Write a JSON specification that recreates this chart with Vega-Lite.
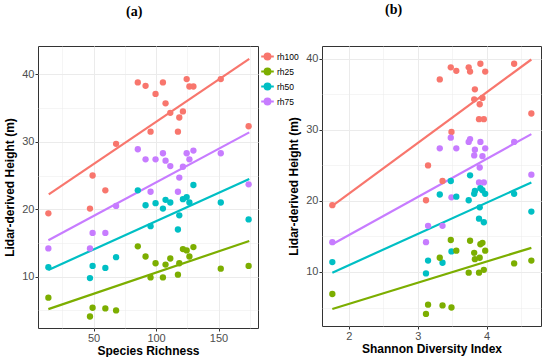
{
  "$schema": "https://vega.github.io/schema/vega-lite/v6.json",
  "padding": {"left": 3, "top": 2, "right": 2, "bottom": 0},
  "background": "white",
  "spacing": 28,
  "datasets": {
    "sites": [
      {"site": "A", "richness": 13.8, "shannon": 1.76, "rh100": 19.4, "rh25": 6.9, "rh50": 11.4, "rh75": 14.2},
      {"site": "B", "richness": 47.1, "shannon": 3.12, "rh100": 20.1, "rh25": 4.1, "rh50": 9.8, "rh75": 14.2},
      {"site": "C", "richness": 49.2, "shannon": 3.15, "rh100": 25.0, "rh25": 5.4, "rh50": 11.6, "rh75": 16.5},
      {"site": "D", "richness": 59.4, "shannon": 3.36, "rh100": 22.8, "rh25": 5.3, "rh50": 11.3, "rh75": 16.5},
      {"site": "E", "richness": 68.0, "shannon": 3.49, "rh100": 29.7, "rh25": 5.0, "rh50": 12.9, "rh75": 20.5},
      {"site": "F", "richness": 85.4, "shannon": 3.48, "rh100": 38.8, "rh25": 14.5, "rh50": 22.8, "rh75": 28.9},
      {"site": "G", "richness": 91.6, "shannon": 3.56, "rh100": 38.3, "rh25": 13.0, "rh50": 20.6, "rh75": 27.4},
      {"site": "H", "richness": 95.6, "shannon": 3.89, "rh100": 31.5, "rh25": 9.9, "rh50": 17.5, "rh75": 22.6},
      {"site": "I", "richness": 99.6, "shannon": 3.32, "rh100": 37.1, "rh25": 12.0, "rh50": 20.9, "rh75": 27.4},
      {"site": "J", "richness": 105.5, "shannon": 3.74, "rh100": 38.8, "rh25": 9.9, "rh50": 20.1, "rh75": 28.3},
      {"site": "K", "richness": 107.6, "shannon": 3.83, "rh100": 35.7, "rh25": 11.8, "rh50": 21.4, "rh75": 27.2},
      {"site": "L", "richness": 111.4, "shannon": 3.82, "rh100": 34.3, "rh25": 12.7, "rh50": 21.0, "rh75": 26.4},
      {"site": "M", "richness": 117.5, "shannon": 3.96, "rh100": 31.5, "rh25": 10.3, "rh50": 17.0, "rh75": 22.6},
      {"site": "N", "richness": 118.6, "shannon": 3.90, "rh100": 33.6, "rh25": 12.0, "rh50": 19.1, "rh75": 24.7},
      {"site": "O", "richness": 121.5, "shannon": 3.94, "rh100": 34.5, "rh25": 14.1, "rh50": 21.5, "rh75": 26.3},
      {"site": "P", "richness": 124.5, "shannon": 3.91, "rh100": 39.3, "rh25": 13.9, "rh50": 21.8, "rh75": 28.3},
      {"site": "Q", "richness": 126.7, "shannon": 3.98, "rh100": 38.2, "rh25": 13.0, "rh50": 21.0, "rh75": 27.4},
      {"site": "R", "richness": 129.9, "shannon": 3.76, "rh100": 38.2, "rh25": 14.4, "rh50": 23.6, "rh75": 28.7},
      {"site": "S", "richness": 151.8, "shannon": 4.40, "rh100": 39.3, "rh25": 11.2, "rh50": 21.0, "rh75": 28.3},
      {"site": "T", "richness": 174.1, "shannon": 4.65, "rh100": 32.3, "rh25": 11.6, "rh50": 18.5, "rh75": 23.7}
    ],
    "fitsA": [
      {"metric": "rh100", "x": 14.1, "height": 22.2},
      {"metric": "rh100", "x": 174.6, "height": 42.3},
      {"metric": "rh75", "x": 13.8, "height": 15.4},
      {"metric": "rh75", "x": 174.6, "height": 31.4},
      {"metric": "rh50", "x": 13.8, "height": 11.0},
      {"metric": "rh50", "x": 174.6, "height": 24.5},
      {"metric": "rh25", "x": 13.8, "height": 5.2},
      {"metric": "rh25", "x": 174.6, "height": 15.3}
    ],
    "fitsB": [
      {"metric": "rh100", "x": 1.76, "height": 19.3},
      {"metric": "rh100", "x": 4.65, "height": 39.9},
      {"metric": "rh75", "x": 1.76, "height": 13.9},
      {"metric": "rh75", "x": 4.65, "height": 29.4},
      {"metric": "rh50", "x": 1.76, "height": 9.9},
      {"metric": "rh50", "x": 4.65, "height": 22.6},
      {"metric": "rh25", "x": 1.76, "height": 4.8},
      {"metric": "rh25", "x": 4.65, "height": 13.4}
    ]
  },
  "hconcat": [
    {
      "title": {"text": "(a)", "anchor": "start", "frame": "group", "dx": 88, "offset": 27},
      "width": 220,
      "height": 282,
      "layer": [
        {
          "data": {"name": "fitsA"},
          "mark": {"type": "line", "strokeWidth": 2.2},
          "encoding": {
            "x": {"field": "x", "type": "quantitative", "scale": {"domain": [5.5, 181.6], "nice": false, "zero": false},
                  "axis": {"title": "Species Richness", "values": [50, 100, 150], "format": "d"}},
            "y": {"field": "height", "type": "quantitative", "scale": {"domain": [2.4, 44.2], "nice": false, "zero": false},
                  "axis": {"title": "Lidar-derived Height (m)", "values": [10, 20, 30, 40], "format": "d"}},
            "color": {"field": "metric", "type": "nominal",
                      "legend": {"orient": "none", "legendX": 224, "legendY": 5, "title": null}},
            "detail": {"field": "metric"}
          }
        },
        {
          "data": {"name": "sites"},
          "transform": [{"fold": ["rh100", "rh25", "rh50", "rh75"], "as": ["metric", "height"]}],
          "mark": {"type": "circle", "size": 40, "opacity": 1},
          "encoding": {
            "x": {"field": "richness", "type": "quantitative",
                  "axis": {"values": [25, 75, 125, 175], "labels": false, "ticks": false, "domain": false, "title": null, "grid": true, "gridWidth": 0.5, "orient": "bottom"}},
            "y": {"field": "height", "type": "quantitative",
                  "axis": {"values": [5, 15, 25, 35], "labels": false, "ticks": false, "domain": false, "title": null, "grid": true, "gridWidth": 0.5, "orient": "left"}},
            "color": {"field": "metric", "type": "nominal"}
          }
        }
      ],
      "resolve": {"axis": {"x": "independent", "y": "independent"}}
    },
    {
      "title": {"text": "(b)", "anchor": "start", "frame": "group", "dx": 63, "offset": 29},
      "width": 219,
      "height": 280,
      "layer": [
        {
          "data": {"name": "fitsB"},
          "mark": {"type": "line", "strokeWidth": 2.2},
          "encoding": {
            "x": {"field": "x", "type": "quantitative", "scale": {"domain": [1.61, 4.79], "nice": false, "zero": false},
                  "axis": {"title": "Shannon Diversity Index", "values": [2, 3, 4], "format": "d"}},
            "y": {"field": "height", "type": "quantitative", "scale": {"domain": [2.4, 41.8], "nice": false, "zero": false},
                  "axis": {"title": "Lidar-derived Height (m)", "values": [10, 20, 30, 40], "format": "d"}},
            "color": {"field": "metric", "type": "nominal"},
            "detail": {"field": "metric"}
          }
        },
        {
          "data": {"name": "sites"},
          "transform": [{"fold": ["rh100", "rh25", "rh50", "rh75"], "as": ["metric", "height"]}],
          "mark": {"type": "circle", "size": 40, "opacity": 1},
          "encoding": {
            "x": {"field": "shannon", "type": "quantitative",
                  "axis": {"values": [2.5, 3.5, 4.5], "labels": false, "ticks": false, "domain": false, "title": null, "grid": true, "gridWidth": 0.5, "orient": "bottom"}},
            "y": {"field": "height", "type": "quantitative",
                  "axis": {"values": [5, 15, 25, 35], "labels": false, "ticks": false, "domain": false, "title": null, "grid": true, "gridWidth": 0.5, "orient": "left"}},
            "color": {"field": "metric", "type": "nominal"}
          }
        }
      ],
      "resolve": {"axis": {"x": "independent", "y": "independent"}}
    }
  ],
  "resolve": {"scale": {"color": "shared"}},
  "config": {
    "font": "Liberation Sans",
    "view": {"stroke": "#333333", "strokeWidth": 1},
    "title": {"font": "Liberation Serif", "fontSize": 14, "fontWeight": "bold", "color": "#000000"},
    "axis": {
      "domain": false,
      "grid": true,
      "gridColor": "#ebebeb",
      "gridWidth": 1,
      "tickColor": "#333333",
      "tickSize": 3,
      "labelColor": "#4d4d4d",
      "labelFontSize": 11,
      "labelPadding": 1,
      "titleFontSize": 12,
      "titleFontWeight": "bold",
      "titleColor": "#000000",
      "titlePadding": 2,
      "labelFlush": false,
      "labelOverlap": false
    },
    "axisY": {"titlePadding": 5, "labelPadding": 1},
    "range": {"category": ["#F8766D", "#7CAE00", "#00BFC4", "#C77CFF"]},
    "legend": {
      "padding": 0,
      "labelFontSize": 8.5,
      "labelColor": "#000000",
      "labelOffset": 4,
      "rowPadding": 0,
      "symbolSize": 81,
      "symbolType": "M-1.4,0H1.4M0.65,0A0.65,0.65,0,1,1,-0.65,0A0.65,0.65,0,1,1,0.65,0Z",
      "symbolStrokeWidth": 2,
      "symbolOpacity": 1
    }
  }
}
